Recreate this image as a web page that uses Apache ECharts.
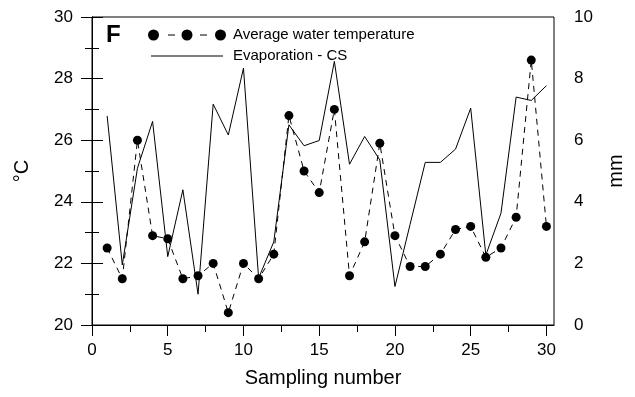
<!DOCTYPE html>
<html>
<head>
<meta charset="utf-8">
<script src="https://cdn.jsdelivr.net/npm/echarts@6/dist/echarts.min.js"></script>
<style>
html,body{margin:0;padding:0;background:#fff;}
#chart{width:635px;height:397px;}
</style>
</head>
<body>
<div id="chart"></div>
<script>
var samplingNumbers = [1,2,3,4,5,6,7,8,9,10,11,12,13,14,15,16,17,18,19,20,21,22,23,24,25,26,27,28,29,30];
var waterTemperature = [22.5,21.5,26.0,22.9,22.8,21.5,21.6,22.0,20.4,22.0,21.5,22.3,26.8,25.0,24.3,27.0,21.6,22.7,25.9,22.9,21.9,21.9,22.3,23.1,23.2,22.2,22.5,23.5,28.6,23.2];
var evaporationCS = [6.79,1.95,5.09,6.61,2.22,4.39,1.0,7.17,6.17,8.34,1.52,2.7,6.5,5.82,5.99,8.56,5.22,6.12,5.36,1.25,3.27,5.28,5.28,5.71,7.04,2.27,3.63,7.4,7.29,7.77];
var xMajorTicks = [0,5,10,15,20,25,30];
var xMinorTicks = [2.5,7.5,12.5,17.5,22.5,27.5];
var seriesNames = ['Average water temperature','Evaporation - CS'];
var panelLabel = 'F';

var FONT = '"Liberation Sans", Arial, sans-serif';
function pairs(xs, ys){ return xs.map(function(x,i){ return [x, ys[i]]; }); }

var chart = echarts.init(document.getElementById('chart'), null, {renderer:'canvas'});
var dotsIcon = 'path://M0,5.5a5.5,5.5 0 1,0 11,0a5.5,5.5 0 1,0 -11,0Z M33.5,5.5a5.5,5.5 0 1,0 11,0a5.5,5.5 0 1,0 -11,0Z M67,5.5a5.5,5.5 0 1,0 11,0a5.5,5.5 0 1,0 -11,0Z M20,5h7v1h-7Z M52,5h7v1h-7Z';
var lineIcon = 'path://M3,5h72v1h-72Z M0,0h0.01v0.01h-0.01Z M77.99,10.99h0.01v0.01h-0.01Z';

chart.setOption({
  animation:false,
  backgroundColor:'#fff',
  textStyle:{fontFamily:FONT},
  grid:{left:92,right:81,top:17,bottom:72,show:true,borderColor:'#000',borderWidth:1,containLabel:false},
  graphic:[{type:'text',left:106,top:23,style:{text:panelLabel,font:'bold 24px '+FONT,fill:'#000'}}],
  legend:{
    orient:'vertical',left:148,top:27,padding:0,itemWidth:78,itemHeight:11,itemGap:5,
    textStyle:{fontFamily:FONT,fontSize:15,color:'#000',lineHeight:16,padding:[0,0,0,2]},
    data:[{name:seriesNames[0],icon:dotsIcon},{name:seriesNames[1],icon:lineIcon}]
  },
  xAxis:[{
    type:'value',min:0,max:30.5,
    name:'Sampling number',nameLocation:'middle',nameGap:43,
    nameTextStyle:{fontFamily:FONT,fontSize:20,color:'#000'},
    axisLine:{show:true,lineStyle:{color:'#000',width:1}},
    axisTick:{show:true,length:11,customValues:xMajorTicks,lineStyle:{color:'#000'}},
    axisLabel:{customValues:xMajorTicks,fontFamily:FONT,fontSize:17,color:'#000',margin:17},
    splitLine:{show:false}
  },{
    type:'value',min:0,max:30.5,position:'bottom',
    axisLine:{show:false},
    axisTick:{show:true,length:7,customValues:xMinorTicks,lineStyle:{color:'#000'}},
    axisLabel:{show:false},splitLine:{show:false}
  }],
  yAxis:[{
    type:'value',min:20,max:30,interval:2,position:'left',
    name:'°C',nameLocation:'middle',nameGap:60,nameRotate:90,
    nameTextStyle:{fontFamily:FONT,fontSize:20,color:'#000'},
    axisLine:{show:true,lineStyle:{color:'#000'}},
    axisTick:{show:true,length:11,lineStyle:{color:'#000'}},
    minorTick:{show:true,splitNumber:2,length:7,lineStyle:{color:'#000'}},
    axisLabel:{fontFamily:FONT,fontSize:17,color:'#000',margin:19},
    splitLine:{show:false}
  },{
    type:'value',min:0,max:10,interval:2,position:'right',
    name:'mm',nameLocation:'middle',nameGap:52,nameRotate:90,
    nameTextStyle:{fontFamily:FONT,fontSize:20,color:'#000'},
    axisLine:{show:true,lineStyle:{color:'#000'}},
    axisTick:{show:true,length:11,lineStyle:{color:'#000'}},
    minorTick:{show:true,splitNumber:2,length:7,lineStyle:{color:'#000'}},
    axisLabel:{fontFamily:FONT,fontSize:17,color:'#000',margin:20},
    splitLine:{show:false}
  }],
  series:[{
    name:seriesNames[0],type:'line',xAxisIndex:0,yAxisIndex:0,
    data:pairs(samplingNumbers,waterTemperature),
    symbol:'circle',symbolSize:9,showSymbol:true,
    itemStyle:{color:'#000'},
    lineStyle:{color:'#000',width:1,type:[6,5]},
    z:3
  },{
    name:seriesNames[1],type:'line',xAxisIndex:0,yAxisIndex:1,
    data:pairs(samplingNumbers,evaporationCS),
    symbol:'none',showSymbol:false,
    itemStyle:{color:'#000'},
    lineStyle:{color:'#000',width:1,type:'solid'},
    z:2
  }]
});
</script>
</body>
</html>
